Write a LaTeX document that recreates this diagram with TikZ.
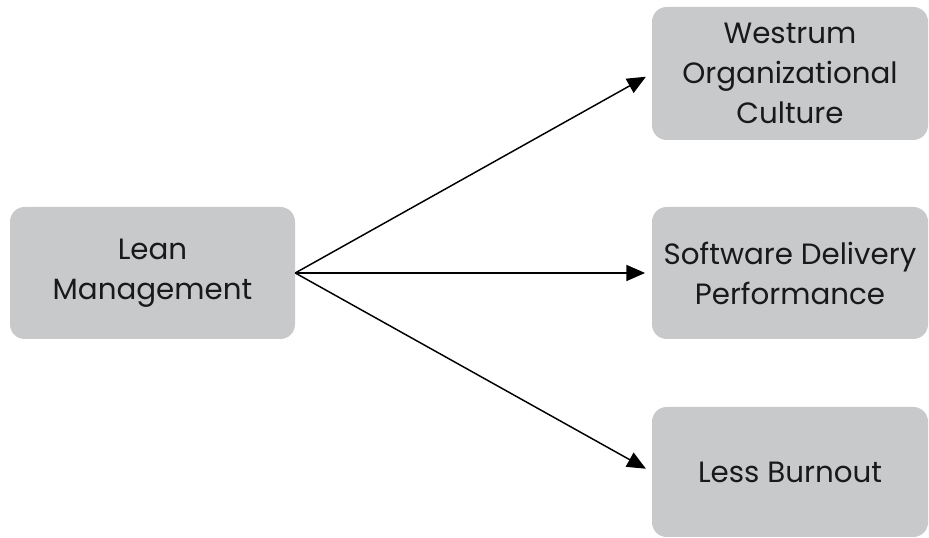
\documentclass[tikz,border=0pt]{standalone}
\usepackage{fontspec}
\setmainfont{Poppins}
\usetikzlibrary{arrows.meta,positioning}

\begin{document}
\begin{tikzpicture}[x=0.75pt, y=0.75pt]
\tikzset{greybox/.style={rectangle,rounded corners=11pt,fill=boxgrey,align=center,
  inner sep=0pt,font=\fontsize{22}{30}\selectfont,text=black!90},
link/.style={line width=1.1pt,-{Triangle[length=14pt,width=12pt]},shorten >=5pt}}
\definecolor{boxgrey}{RGB}{200,201,203}

\useasboundingbox (0,0) rectangle (929,538);

\node (lean) [greybox,minimum width=213.75pt,minimum height=99pt] at (152.5,265) {Lean\\Management};
\node (culture) [greybox,minimum width=207pt,minimum height=99.75pt] at (790,464.5) {Westrum\\Organizational\\Culture};
\node (sdp) [greybox,minimum width=207pt,minimum height=99pt] at (790,265) {Software Delivery\\Performance};
\node (burnout) [greybox,minimum width=207pt,minimum height=97.5pt] at (790,66) {Less Burnout};

%% Edges
\draw [link] (lean.east) -- (culture.west);
\draw [link] (lean.east) -- (sdp.west);
\draw [link] (lean.east) -- (burnout.west);

\end{tikzpicture}
\end{document}
